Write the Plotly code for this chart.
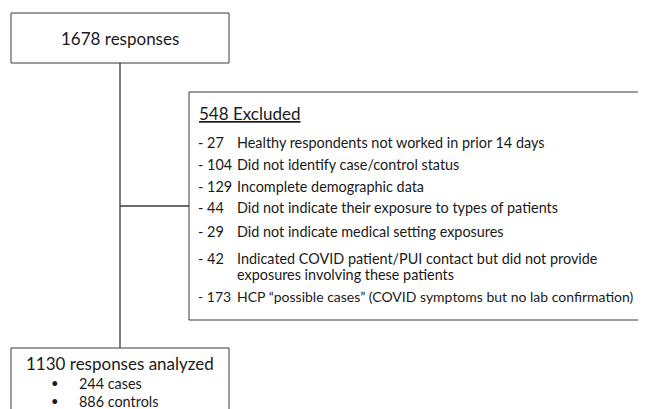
import plotly.graph_objects as go

total_label = "1678 responses"
excluded_total = 548
excluded_counts = ["27", "104", "129", "44", "29", "42", "173"]
excluded_reasons = [
    "Healthy respondents not worked in prior 14 days",
    "Did not identify case/control status",
    "Incomplete demographic data",
    "Did not indicate their exposure to types of patients",
    "Did not indicate medical setting exposures",
    "Indicated COVID patient/PUI contact but did not provide<br>exposures involving these patients",
    "HCP \u201cpossible cases\u201d (COVID symptoms but no lab confirmation)",
]
analyzed_label = "1130 responses analyzed"
analyzed_groups = ["244 cases", "886 controls"]

W, H = 646, 409
OFF = 8  # page body margin: data coordinates equal screenshot pixels
FONT = "Lato"
TXT = "#1a1a1a"
LINE = "#3a3a3a"

fig = go.Figure()
shapes = []
ann = []

# boxes
shapes.append(dict(type="rect", x0=11, y0=13, x1=229, y1=63, line=dict(color=LINE, width=1)))
shapes.append(dict(type="rect", x0=189, y0=92, x1=670, y1=320, line=dict(color=LINE, width=1)))
shapes.append(dict(type="rect", x0=11, y0=348, x1=229, y1=440, line=dict(color=LINE, width=1)))
# connectors
shapes.append(dict(type="line", x0=120, y0=63, x1=120, y1=348, line=dict(color=LINE, width=1.3)))
shapes.append(dict(type="line", x0=120, y0=206, x1=189, y1=206, line=dict(color=LINE, width=1.3)))

ann.append(dict(x=120, y=38, text=total_label, xanchor="center", yanchor="middle",
                font=dict(size=17, color=TXT, family=FONT)))
ann.append(dict(x=197, y=113, text=f"<u>{excluded_total} Excluded</u>", xanchor="left", yanchor="middle",
                font=dict(size=17, color=TXT, family=FONT)))

row_y = [142, 164, 186, 207, 231, 258, 296]
WRAP_GAP = 16
LS = 14.4
for i, (c, r, y) in enumerate(zip(excluded_counts, excluded_reasons, row_y)):
    fs = LS if i < len(excluded_counts) - 1 else 14.0
    ann.append(dict(x=196, y=y, text=f"- {c}", xanchor="left", yanchor="middle",
                    font=dict(size=fs, color=TXT, family=FONT)))
    for k, part in enumerate(r.split("<br>")):
        ann.append(dict(x=235, y=y + k * WRAP_GAP, text=part, xanchor="left", yanchor="middle",
                        font=dict(size=fs, color=TXT, family=FONT)))

ann.append(dict(x=120, y=363, text=analyzed_label, xanchor="center", yanchor="middle",
                font=dict(size=17, color=TXT, family=FONT)))
for g, y in zip(analyzed_groups, [383, 401]):
    ann.append(dict(x=55, y=y, text="\u2022", xanchor="center", yanchor="middle",
                    font=dict(size=13, color=TXT, family=FONT)))
    ann.append(dict(x=77, y=y, text=g, xanchor="left", yanchor="middle",
                    font=dict(size=LS, color=TXT, family=FONT)))

for a in ann:
    a.update(xref="x", yref="y", showarrow=False)

fig.update_layout(
    width=W - OFF, height=H - OFF, margin=dict(l=0, r=0, t=0, b=0),
    paper_bgcolor="white", plot_bgcolor="white",
    xaxis=dict(range=[OFF, W], visible=False, fixedrange=True),
    yaxis=dict(range=[H, OFF], visible=False, fixedrange=True),
    shapes=shapes, annotations=ann, showlegend=False,
)
fig.write_html("out.html")
